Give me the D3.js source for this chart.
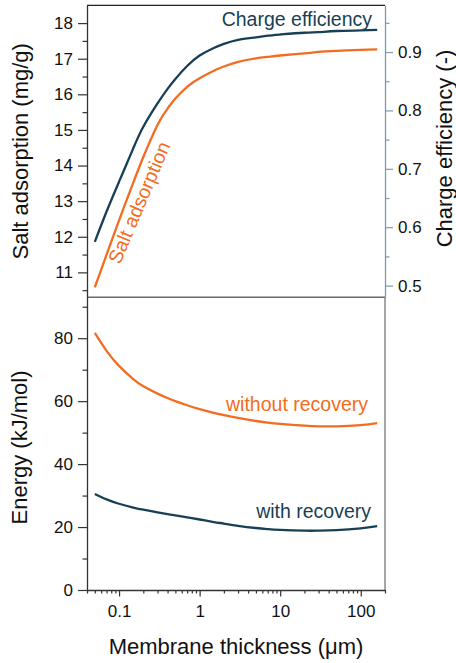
<!DOCTYPE html>
<html>
<head>
<meta charset="utf-8">
<script src="https://cdn.jsdelivr.net/npm/d3@7"></script>
<style>
  html, body { margin: 0; padding: 0; background: #fff; }
  svg { display: block; font-family: "Liberation Sans", Arial, sans-serif; }
</style>
</head>
<body>
<svg id="chart" width="456" height="663"></svg>
<script>
// Membrane thickness (µm)
const thickness = [0.05, 0.07, 0.1, 0.15, 0.2, 0.3, 0.4, 0.5, 0.7, 1, 1.5, 2, 3, 5, 7, 10, 20, 30, 50, 100, 160];
// Salt adsorption (mg/g), left axis of the upper panel
const saltAdsorption = [10.58, 11.50, 12.46, 13.52, 14.24, 15.14, 15.60, 15.88, 16.21, 16.45, 16.66, 16.78, 16.91, 17.01, 17.05, 17.09, 17.15, 17.19, 17.22, 17.25, 17.26];
// Charge efficiency (-), right axis of the upper panel
const chargeEfficiency = [0.575, 0.627, 0.678, 0.735, 0.772, 0.812, 0.837, 0.854, 0.876, 0.894, 0.907, 0.914, 0.921, 0.925, 0.928, 0.930, 0.933, 0.934, 0.936, 0.937, 0.938];
// Energy consumption (kJ/mol), lower panel
const energyWithout = [81.7, 76.0, 71.2, 67.0, 64.7, 62.4, 61.0, 60.0, 58.7, 57.5, 56.3, 55.6, 54.7, 53.7, 53.2, 52.8, 52.2, 52.0, 52.0, 52.4, 53.0];
const energyWith = [30.5, 28.8, 27.4, 26.2, 25.5, 24.7, 24.1, 23.7, 23.1, 22.4, 21.6, 21.1, 20.4, 19.7, 19.35, 19.1, 18.85, 18.85, 19.0, 19.6, 20.3];

// Tick values
const xMajorTicks = [0.1, 1, 10, 100];
const saltTicks = [11, 12, 13, 14, 15, 16, 17, 18];
const effTicks = [0.5, 0.6, 0.7, 0.8, 0.9];
const energyTicks = [0, 20, 40, 60, 80];

const BLUE = "#173f55";
const ORANGE = "#f36c21";
const SLATE = "#7f9aab";

const svg = d3.select("#chart");

const plotLeft = 87, plotRight = 385, plotTop = 5.3, plotMid = 297.3, plotBottom = 590;

const x = d3.scaleLog().domain([0.04, 200]).range([plotLeft, plotRight]);
const ySalt = d3.scaleLinear().domain([10.3, 18.5]).range([plotMid, plotTop]);
const yEff = d3.scaleLinear().domain([0.48, 0.98]).range([plotMid, plotTop]);
const yEnergy = d3.scaleLinear().domain([0, 93]).range([plotBottom, plotMid]);

// minor tick values
const xMinor = [];
for (let e = -2; e <= 2; e++) {
  for (let m = 1; m <= 9; m++) {
    const v = +(m * Math.pow(10, e)).toPrecision(3);
    if (v >= 0.04 && v <= 200 && !xMajorTicks.includes(v)) xMinor.push(v);
  }
}
const saltMinor = d3.range(10.5, 18.5, 1);
const effMinor = d3.range(0.55, 0.96, 0.1).map(v => +v.toFixed(2));
const energyMinor = [10, 30, 50, 70, 90];

function styleAxis(g, color, fontSize) {
  g.selectAll("path").attr("stroke", color).attr("stroke-width", 1.3);
  g.selectAll("line").attr("stroke", color).attr("stroke-width", 1.2);
  g.selectAll("text").attr("fill", "#111").attr("font-size", fontSize)
    .attr("font-family", "Liberation Sans, Arial, sans-serif");
}

// ---- frame lines ----
svg.append("line").attr("x1", plotLeft).attr("x2", plotRight).attr("y1", plotTop).attr("y2", plotTop)
  .attr("stroke", "#222").attr("stroke-width", 1.3);
svg.append("line").attr("x1", plotLeft).attr("x2", plotRight).attr("y1", plotMid).attr("y2", plotMid)
  .attr("stroke", "#6a6a6a").attr("stroke-width", 1.6);
svg.append("line").attr("x1", plotRight).attr("x2", plotRight).attr("y1", plotMid).attr("y2", plotBottom)
  .attr("stroke", "#777").attr("stroke-width", 1.3);

// ---- upper panel axes ----
const gSaltMinor = svg.append("g").attr("transform", `translate(${plotLeft},0)`)
  .call(d3.axisLeft(ySalt).tickValues(saltMinor).tickSize(4.5).tickFormat(""));
styleAxis(gSaltMinor, "#333", 17);
gSaltMinor.select("path").remove();
const gSalt = svg.append("g").attr("transform", `translate(${plotLeft},0)`)
  .call(d3.axisLeft(ySalt).tickValues(saltTicks).tickSize(9).tickPadding(5).tickSizeOuter(0));
styleAxis(gSalt, "#333", 17);

const gEffMinor = svg.append("g").attr("transform", `translate(${plotRight},0)`)
  .call(d3.axisRight(yEff).tickValues(effMinor).tickSize(4.5).tickFormat(""));
styleAxis(gEffMinor, SLATE, 17);
gEffMinor.select("path").remove();
const gEff = svg.append("g").attr("transform", `translate(${plotRight},0)`)
  .call(d3.axisRight(yEff).tickValues(effTicks).tickSize(8).tickPadding(5).tickSizeOuter(0)
    .tickFormat(d3.format(".1f")));
styleAxis(gEff, SLATE, 17);

// ---- lower panel axes ----
const gEnMinor = svg.append("g").attr("transform", `translate(${plotLeft},0)`)
  .call(d3.axisLeft(yEnergy).tickValues(energyMinor).tickSize(4.5).tickFormat(""));
styleAxis(gEnMinor, "#333", 17);
gEnMinor.select("path").remove();
const gEn = svg.append("g").attr("transform", `translate(${plotLeft},0)`)
  .call(d3.axisLeft(yEnergy).tickValues(energyTicks).tickSize(9).tickPadding(5).tickSizeOuter(0));
styleAxis(gEn, "#333", 17);

const gXMinor = svg.append("g").attr("transform", `translate(0,${plotBottom})`)
  .call(d3.axisBottom(x).tickValues(xMinor).tickSize(3.5).tickFormat(""));
styleAxis(gXMinor, "#333", 17);
gXMinor.select("path").remove();
const gX = svg.append("g").attr("transform", `translate(0,${plotBottom})`)
  .call(d3.axisBottom(x).tickValues(xMajorTicks).tickSize(6.5).tickPadding(8).tickSizeOuter(0)
    .tickFormat(d => d3.format("~g")(d)));
styleAxis(gX, "#333", 17);

// ---- curves (natural cubic spline through the sampled values) ----
const pts = ys => thickness.map((t, i) => [t, ys[i]]);
const lineOn = yScale => d3.line().curve(d3.curveNatural).x(d => x(d[0])).y(d => yScale(d[1]));

svg.append("path").datum(pts(chargeEfficiency)).attr("d", lineOn(yEff))
  .attr("fill", "none").attr("stroke", BLUE).attr("stroke-width", 2.3);
svg.append("path").datum(pts(saltAdsorption)).attr("d", lineOn(ySalt))
  .attr("fill", "none").attr("stroke", ORANGE).attr("stroke-width", 2.3);
svg.append("path").datum(pts(energyWithout)).attr("d", lineOn(yEnergy))
  .attr("fill", "none").attr("stroke", ORANGE).attr("stroke-width", 2.3);
svg.append("path").datum(pts(energyWith)).attr("d", lineOn(yEnergy))
  .attr("fill", "none").attr("stroke", BLUE).attr("stroke-width", 2.3);

// ---- in-plot labels ----
svg.append("text").attr("x", 372).attr("y", 26).attr("text-anchor", "end")
  .attr("font-size", 19.5).attr("fill", BLUE).text("Charge efficiency");
svg.append("text").attr("transform", "translate(120,265) rotate(-67)")
  .attr("font-size", 19.5).attr("fill", ORANGE).text("Salt adsorption");
svg.append("text").attr("x", 368).attr("y", 411).attr("text-anchor", "end")
  .attr("font-size", 19.5).attr("fill", ORANGE).text("without recovery");
svg.append("text").attr("x", 371).attr("y", 518).attr("text-anchor", "end")
  .attr("font-size", 19.5).attr("fill", BLUE).text("with recovery");

// ---- axis titles ----
svg.append("text").attr("transform", `translate(28,${(plotTop + plotMid) / 2}) rotate(-90)`)
  .attr("text-anchor", "middle").attr("font-size", 22).attr("fill", "#111")
  .text("Salt adsorption (mg/g)");
svg.append("text").attr("transform", `translate(451.5,148.5) rotate(-90)`)
  .attr("text-anchor", "middle").attr("font-size", 22).attr("fill", "#111")
  .text("Charge efficiency (-)");
svg.append("text").attr("transform", `translate(26.5,447.5) rotate(-90)`)
  .attr("text-anchor", "middle").attr("font-size", 22).attr("fill", "#111")
  .text("Energy (kJ/mol)");
svg.append("text").attr("x", (plotLeft + plotRight) / 2).attr("y", 654).attr("text-anchor", "middle")
  .attr("font-size", 22).attr("fill", "#111").text("Membrane thickness (\u03bcm)");
</script>
</body>
</html>
